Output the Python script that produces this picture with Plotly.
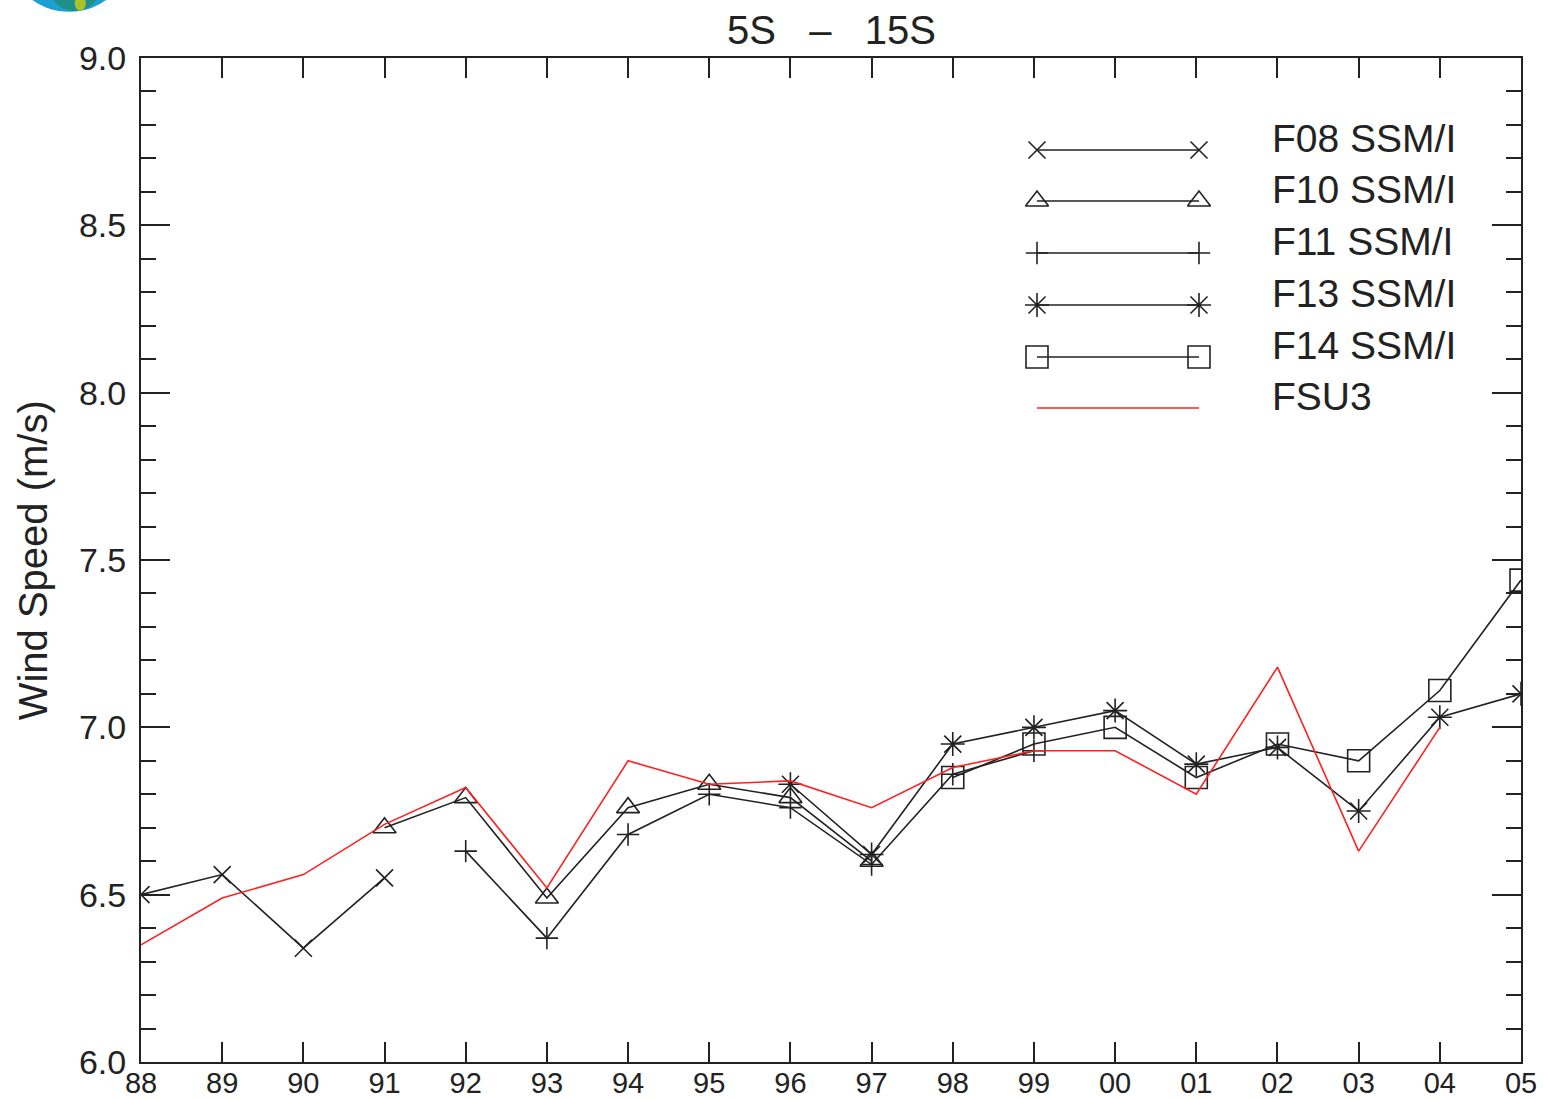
import plotly.graph_objects as go

# ---------------- data ----------------
years = list(range(1988, 2006))
year_labels = ["88", "89", "90", "91", "92", "93", "94", "95", "96",
               "97", "98", "99", "00", "01", "02", "03", "04", "05"]
N = None
f08 = [6.50, 6.56, 6.34, 6.55, N, N, N, N, N, N, N, N, N, N, N, N, N, N]
f10 = [N, N, N, 6.70, 6.79, 6.49, 6.76, 6.83, 6.79, 6.60, N, N, N, N, N, N, N, N]
f11 = [N, N, N, N, 6.63, 6.37, 6.68, 6.80, 6.76, 6.59, 6.86, 6.93, N, N, N, N, N, N]
f13 = [N, N, N, N, N, N, N, N, 6.83, 6.62, 6.95, 7.00, 7.05, 6.89, 6.94, 6.75, 7.03, 7.10]
f14 = [N, N, N, N, N, N, N, N, N, N, 6.85, 6.95, 7.00, 6.85, 6.95, 6.90, 7.11, 7.44]
fsu3 = [6.35, 6.49, 6.56, 6.71, 6.82, 6.52, 6.90, 6.83, 6.84, 6.76, 6.88, 6.93,
        6.93, 6.80, 7.18, 6.63, 7.00, N]

series_names = ["F08 SSM/I", "F10 SSM/I", "F11 SSM/I", "F13 SSM/I", "F14 SSM/I", "FSU3"]
series_values = [f08, f10, f11, f13, f14, fsu3]
symbols = ["x-thin-open", "triangle-up-open", "cross-thin-open", "asterisk-open", "square-open", None]
sizes = [17, 20, 16, 20, 22, 0]

INK = "#222222"
RED = "#ff2020"
FONT = "Liberation Sans"

fig = go.Figure()

for name, vals, sym, sz in zip(series_names, series_values, symbols, sizes):
    if sym is None:
        fig.add_trace(go.Scatter(x=years, y=vals, mode="lines", name=name,
                                 line=dict(color=RED, width=1.6),
                                 connectgaps=False, showlegend=False))
    else:
        fig.add_trace(go.Scatter(x=years, y=vals, mode="lines+markers", name=name,
                                 line=dict(color=INK, width=1.6),
                                 marker=dict(symbol=sym, size=sz, color=INK,
                                             line=dict(color=INK, width=1.6)),
                                 connectgaps=False, showlegend=False))

# ---------------- custom legend (overlay axis in pixel units) ----------------
leg_rows = [150, 201, 253, 305, 357, 408]
leg_x0, leg_x1, leg_tx = 1037, 1199, 1270
for name, sym, sz, yy in zip(series_names, symbols, sizes, leg_rows):
    if sym is None:
        fig.add_trace(go.Scatter(x=[leg_x0, leg_x1], y=[yy, yy], mode="lines",
                                 xaxis="x2", yaxis="y2", showlegend=False, hoverinfo="skip",
                                 line=dict(color=RED, width=1.6)))
    else:
        fig.add_trace(go.Scatter(x=[leg_x0, leg_x1], y=[yy, yy], mode="lines+markers",
                                 xaxis="x2", yaxis="y2", showlegend=False, hoverinfo="skip",
                                 line=dict(color=INK, width=1.6),
                                 marker=dict(symbol=sym, size=sz, color=INK,
                                             line=dict(color=INK, width=1.6))))
    fig.add_annotation(x=leg_tx, y=yy - 12, xref="x2", yref="y2", text=name,
                       showarrow=False, xanchor="left", yanchor="middle",
                       font=dict(family=FONT, size=39, color=INK))

# y-axis title
fig.add_annotation(x=-0.078, y=0.5, xref="paper", yref="paper",
                   text="Wind Speed (m/s)", textangle=-90, showarrow=False,
                   xanchor="center", yanchor="middle",
                   font=dict(family=FONT, size=40, color=INK))

# title
fig.add_annotation(x=0.5, y=1.028, xref="paper", yref="paper",
                   text="5S\u00a0\u00a0\u00a0\u2013\u00a0\u00a0\u00a015S", showarrow=False,
                   xanchor="center", yanchor="middle",
                   font=dict(family=FONT, size=40, color=INK))

# partial logo at top-left corner
fig.add_shape(type="circle", xref="paper", yref="paper",
              x0=-0.096, x1=-0.008, y0=1.046, y1=1.16,
              fillcolor="#1c9fd2", line=dict(width=0), layer="above")
fig.add_shape(type="circle", xref="paper", yref="paper",
              x0=-0.066, x1=-0.030, y0=1.047, y1=1.09,
              fillcolor="#1f8f8a", line=dict(width=0), layer="above")
fig.add_shape(type="circle", xref="paper", yref="paper",
              x0=-0.048, x1=-0.040, y0=1.047, y1=1.062,
              fillcolor="#a9c22a", line=dict(width=0), layer="above")

fig.update_layout(
    width=1544, height=1099,
    margin=dict(l=141, r=23, t=58, b=37),
    paper_bgcolor="white", plot_bgcolor="white",
    font=dict(family=FONT, color=INK),
    xaxis=dict(range=[1988, 2005], tickvals=years, ticktext=year_labels,
               ticks="inside", ticklen=20, tickwidth=2, tickcolor=INK,
               showline=True, linecolor=INK, linewidth=2, mirror="ticks",
               showgrid=False, zeroline=False, automargin=False,
               ticklabelstandoff=-6,
               tickfont=dict(family=FONT, size=29, color=INK)),
    yaxis=dict(range=[6, 9], dtick=0.5, tick0=6, tickformat=".1f",
               ticks="inside", ticklen=29, tickwidth=2, tickcolor=INK,
               minor=dict(dtick=0.1, ticks="inside", ticklen=15, tickwidth=2,
                          tickcolor=INK, showgrid=False),
               showline=True, linecolor=INK, linewidth=2, mirror="ticks",
               showgrid=False, zeroline=False, ticklabelstandoff=6, automargin=False,
               tickfont=dict(family=FONT, size=34, color=INK)),
    xaxis2=dict(overlaying="x", range=[141, 1521], visible=False, fixedrange=True),
    yaxis2=dict(overlaying="y", range=[1062, 58], visible=False, fixedrange=True),
    showlegend=False,
)

fig.write_html("out.html", config={"displayModeBar": False},
               post_script="document.body.style.margin='0';document.body.style.padding='0';")
